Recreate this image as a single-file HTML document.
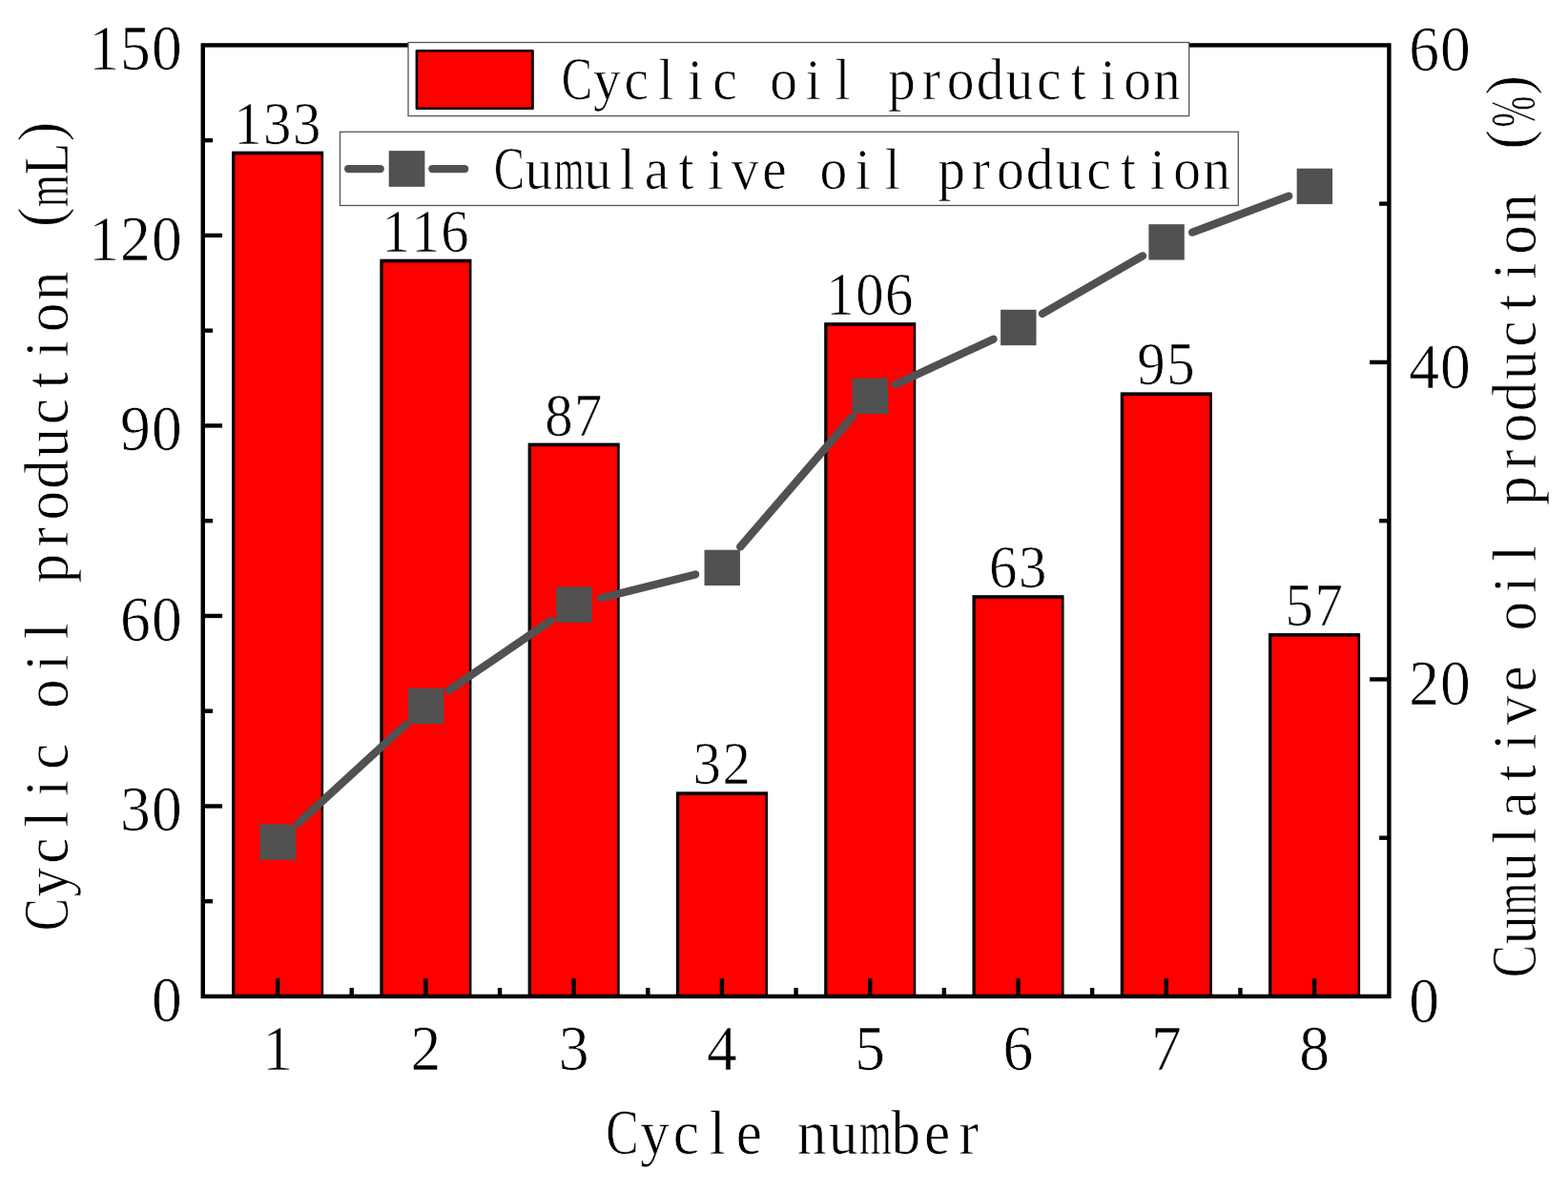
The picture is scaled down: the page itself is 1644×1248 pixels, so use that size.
<!DOCTYPE html>
<html lang="en">
<head>
<meta charset="utf-8">
<title>Cyclic oil production (mL) - Cumulative oil production (%) - Cycle number</title>
<style>
html,body{margin:0;padding:0;background:#fff;}
body{width:1644px;height:1248px;overflow:hidden;}
svg{display:block;}
text{font-family:"Liberation Serif","Noto Serif CJK SC",serif;fill:#000;text-anchor:middle;stroke:#fff;stroke-width:0.7;paint-order:fill stroke;}
</style>
</head>
<body>
<svg width="1644" height="1248" viewBox="0 0 1644 1248">
<rect width="1644" height="1248" fill="#fff"/>
<g fill="#000">
<rect x="243.05" y="158.66" width="96.1" height="886.29"/>
<rect x="398.33" y="271.71" width="96.1" height="773.24"/>
<rect x="553.61" y="464.57" width="96.1" height="580.38"/>
<rect x="708.89" y="830.34" width="96.1" height="214.61"/>
<rect x="864.17" y="338.21" width="96.1" height="706.74"/>
<rect x="1019.45" y="624.18" width="96.1" height="420.77"/>
<rect x="1174.73" y="411.37" width="96.1" height="633.58"/>
<rect x="1330.01" y="664.08" width="96.1" height="380.87"/>
</g>
<g fill="#ff0000">
<rect x="246.35" y="162.26" width="90.3" height="882.69"/>
<rect x="401.63" y="275.31" width="90.3" height="769.64"/>
<rect x="556.91" y="468.17" width="90.3" height="576.78"/>
<rect x="712.19" y="833.94" width="90.3" height="211.01"/>
<rect x="867.47" y="341.81" width="90.3" height="703.14"/>
<rect x="1022.75" y="627.78" width="90.3" height="417.17"/>
<rect x="1178.03" y="414.97" width="90.3" height="629.98"/>
<rect x="1333.31" y="667.68" width="90.3" height="377.27"/>
</g>
<g stroke="#515151" stroke-width="8.3" stroke-linecap="round" fill="none">
<line x1="312.72" y1="863.42" x2="425.36" y2="759.98"/>
<line x1="470.58" y1="724.06" x2="578.06" y2="650.54"/>
<line x1="630.05" y1="627.18" x2="729.15" y2="602.42"/>
<line x1="776.14" y1="573.47" x2="893.62" y2="437.23"/>
<line x1="938.8" y1="403.15" x2="1041.52" y2="355.65"/>
<line x1="1092.87" y1="329.03" x2="1198.01" y2="268.37"/>
<line x1="1250.17" y1="243.69" x2="1351.27" y2="205.61"/>
</g>
<g fill="#515151">
<rect x="272.7" y="864.3" width="37.4" height="37.4"/>
<rect x="427.98" y="721.7" width="37.4" height="37.4"/>
<rect x="583.26" y="615.5" width="37.4" height="37.4"/>
<rect x="738.54" y="576.7" width="37.4" height="37.4"/>
<rect x="893.82" y="396.6" width="37.4" height="37.4"/>
<rect x="1049.1" y="324.8" width="37.4" height="37.4"/>
<rect x="1204.38" y="235.2" width="37.4" height="37.4"/>
<rect x="1359.66" y="176.7" width="37.4" height="37.4"/>
</g>
<g stroke="#000" stroke-width="4.4" fill="none" stroke-linecap="butt">
<rect x="212.75" y="47.4" width="1243.65" height="997.55"/>
<line x1="212.75" y1="945.2" x2="223.05" y2="945.2"/>
<line x1="212.75" y1="845.44" x2="233.05" y2="845.44"/>
<line x1="212.75" y1="745.69" x2="223.05" y2="745.69"/>
<line x1="212.75" y1="645.93" x2="233.05" y2="645.93"/>
<line x1="212.75" y1="546.18" x2="223.05" y2="546.18"/>
<line x1="212.75" y1="446.42" x2="233.05" y2="446.42"/>
<line x1="212.75" y1="346.67" x2="223.05" y2="346.67"/>
<line x1="212.75" y1="246.91" x2="233.05" y2="246.91"/>
<line x1="212.75" y1="147.16" x2="223.05" y2="147.16"/>
<line x1="1456.4" y1="878.69" x2="1446.1" y2="878.69"/>
<line x1="1456.4" y1="712.43" x2="1436.1" y2="712.43"/>
<line x1="1456.4" y1="546.17" x2="1446.1" y2="546.17"/>
<line x1="1456.4" y1="379.92" x2="1436.1" y2="379.92"/>
<line x1="1456.4" y1="213.66" x2="1446.1" y2="213.66"/>
<line x1="291.1" y1="1044.95" x2="291.1" y2="1025.95"/>
<line x1="368.74" y1="1044.95" x2="368.74" y2="1035.95"/>
<line x1="446.38" y1="1044.95" x2="446.38" y2="1025.95"/>
<line x1="524.02" y1="1044.95" x2="524.02" y2="1035.95"/>
<line x1="601.66" y1="1044.95" x2="601.66" y2="1025.95"/>
<line x1="679.3" y1="1044.95" x2="679.3" y2="1035.95"/>
<line x1="756.94" y1="1044.95" x2="756.94" y2="1025.95"/>
<line x1="834.58" y1="1044.95" x2="834.58" y2="1035.95"/>
<line x1="912.22" y1="1044.95" x2="912.22" y2="1025.95"/>
<line x1="989.86" y1="1044.95" x2="989.86" y2="1035.95"/>
<line x1="1067.5" y1="1044.95" x2="1067.5" y2="1025.95"/>
<line x1="1145.14" y1="1044.95" x2="1145.14" y2="1035.95"/>
<line x1="1222.78" y1="1044.95" x2="1222.78" y2="1025.95"/>
<line x1="1300.42" y1="1044.95" x2="1300.42" y2="1035.95"/>
<line x1="1378.06" y1="1044.95" x2="1378.06" y2="1025.95"/>
</g>
<g fill="#fff" stroke="#555" stroke-width="1.3">
<rect x="428" y="44.5" width="818.7" height="77.1"/>
<rect x="356.5" y="138.3" width="941.8" height="77.2"/>
</g>
<rect x="436.9" y="53.3" width="121.6" height="60.4" fill="#ff0000" stroke="#000" stroke-width="2.6" stroke-linejoin="round"/>
<g stroke="#515151" stroke-width="8.3" stroke-linecap="round">
<line x1="365.15" y1="177.1" x2="398.75" y2="177.1"/>
<line x1="453.25" y1="177.1" x2="487.25" y2="177.1"/>
</g>
<rect x="407.7" y="158.15" width="37.7" height="37.7" fill="#515151"/>
<text transform="translate(0 104.3) scale(0.95 1)" x="636.76 669.84 702.37 734.89 767.42 799.95 832.47 865 897.53 930.05 962.58 995.11 1027.63 1060.16 1092.68 1125.21 1157.74 1190.26 1222.79 1255.32 1287.84" font-size="60.6"><tspan font-size="63.63" textLength="34.01" lengthAdjust="spacingAndGlyphs">C</tspan>yclic oil production</text>
<text transform="translate(0 197.8) scale(0.95 1)" x="562.02 594.68 628.2 659.74 692.26 724.79 757.32 789.84 822.37 854.89 887.42 919.95 952.47 985 1017.53 1050.05 1082.58 1115.11 1147.63 1180.16 1212.68 1245.21 1277.74 1310.26 1342.79" font-size="60.6"><tspan font-size="63.63" textLength="34.01" lengthAdjust="spacingAndGlyphs">C</tspan>u<tspan textLength="33.51" lengthAdjust="spacingAndGlyphs">m</tspan>ulative oil production</text>
<text transform="translate(0 150.66) scale(0.93 1)" x="279.46 312.69 345.91" font-size="63.2">133</text>
<text transform="translate(0 263.71) scale(0.93 1)" x="446.43 479.66 512.88" font-size="63.2">116</text>
<text transform="translate(0 456.57) scale(0.93 1)" x="630.01 663.24" font-size="63.2">87</text>
<text transform="translate(0 822.34) scale(0.93 1)" x="796.98 830.2" font-size="63.2">32</text>
<text transform="translate(0 330.21) scale(0.93 1)" x="947.33 980.56 1013.78" font-size="63.2">106</text>
<text transform="translate(0 616.18) scale(0.93 1)" x="1130.91 1164.14" font-size="63.2">63</text>
<text transform="translate(0 403.37) scale(0.93 1)" x="1297.88 1331.11" font-size="63.2">95</text>
<text transform="translate(0 656.08) scale(0.93 1)" x="1464.85 1498.08" font-size="63.2">57</text>
<text transform="translate(0 1070.95) scale(0.93 1)" x="188.01" font-size="68.4">0</text>
<text transform="translate(0 871.44) scale(0.93 1)" x="152.63 188.01" font-size="68.4">30</text>
<text transform="translate(0 671.93) scale(0.93 1)" x="152.63 188.01" font-size="68.4">60</text>
<text transform="translate(0 472.42) scale(0.93 1)" x="152.63 188.01" font-size="68.4">90</text>
<text transform="translate(0 272.91) scale(0.93 1)" x="117.26 152.63 188.01" font-size="68.4">120</text>
<text transform="translate(0 73.4) scale(0.93 1)" x="117.26 152.63 188.01" font-size="68.4">150</text>
<text transform="translate(0 1071.55) scale(0.93 1)" x="1605.43" font-size="68.4">0</text>
<text transform="translate(0 739.03) scale(0.93 1)" x="1605.43 1640.81" font-size="68.4">20</text>
<text transform="translate(0 406.52) scale(0.93 1)" x="1605.43 1640.81" font-size="68.4">40</text>
<text transform="translate(0 74) scale(0.93 1)" x="1605.43 1640.81" font-size="68.4">60</text>
<text transform="translate(0 1122.4) scale(0.93 1)" x="313.01" font-size="68.4">1</text>
<text transform="translate(0 1122.4) scale(0.93 1)" x="479.98" font-size="68.4">2</text>
<text transform="translate(0 1122.4) scale(0.93 1)" x="646.95" font-size="68.4">3</text>
<text transform="translate(0 1122.4) scale(0.93 1)" x="813.91" font-size="68.4">4</text>
<text transform="translate(0 1122.4) scale(0.93 1)" x="980.88" font-size="68.4">5</text>
<text transform="translate(0 1122.4) scale(0.93 1)" x="1147.85" font-size="68.4">6</text>
<text transform="translate(0 1122.4) scale(0.93 1)" x="1314.82" font-size="68.4">7</text>
<text transform="translate(0 1122.4) scale(0.93 1)" x="1481.78" font-size="68.4">8</text>
<text transform="translate(0 1210.3) scale(0.95 1)" x="686.84 722.74 757.37 792 826.63 861.26 895.89 930.53 966.21 999.79 1034.42 1069.05" font-size="64.6"><tspan font-size="67.83" textLength="36.21" lengthAdjust="spacingAndGlyphs">C</tspan>ycle nu<tspan textLength="35.68" lengthAdjust="spacingAndGlyphs">m</tspan>ber</text>
<text transform="translate(71 546.7) rotate(-90) scale(0.95 1)" y="-0 -0 -0 -0 -0 -0 -0 -0 -0 -0 -0 -0 -0 -0 -0 -0 -0 -0 -0 -0 -0 -0 -7.4 -0 -0 -7.4" x="-434.16 -398.26 -363.63 -329 -294.37 -259.74 -225.11 -190.47 -155.84 -121.21 -86.58 -51.95 -17.32 17.32 51.95 86.58 121.21 155.84 190.47 225.11 259.74 294.37 335.63 364.68 400.16 430.26" font-size="64.6"><tspan font-size="67.83" textLength="36.21" lengthAdjust="spacingAndGlyphs">C</tspan>yclic oil production (<tspan textLength="35.68" lengthAdjust="spacingAndGlyphs">m</tspan><tspan font-size="67.83" textLength="35.68" lengthAdjust="spacingAndGlyphs">L</tspan>)</text>
<text transform="translate(1610 547.5) rotate(-90) scale(0.95 1)" y="-0 -0 -0 -0 -0 -0 -0 -0 -0 -0 -0 -0 -0 -0 -0 -0 -0 -0 -0 -0 -0 -0 -0 -0 -0 -0 -7.4 -0.8 -7.4" x="-484.84 -450.21 -416.42 -380.95 -346.32 -311.68 -277.05 -242.42 -207.79 -173.16 -138.53 -103.89 -69.26 -34.63 0 34.63 69.26 103.89 138.53 173.16 207.79 242.42 277.05 311.68 346.32 380.95 422.21 453.16 482.21" font-size="64.6"><tspan font-size="67.83" textLength="36.21" lengthAdjust="spacingAndGlyphs">C</tspan>u<tspan textLength="35.68" lengthAdjust="spacingAndGlyphs">m</tspan>ulative oil production (<tspan font-size="67.18" textLength="34.63" lengthAdjust="spacingAndGlyphs">%</tspan>)</text>
</svg>
</body>
</html>
